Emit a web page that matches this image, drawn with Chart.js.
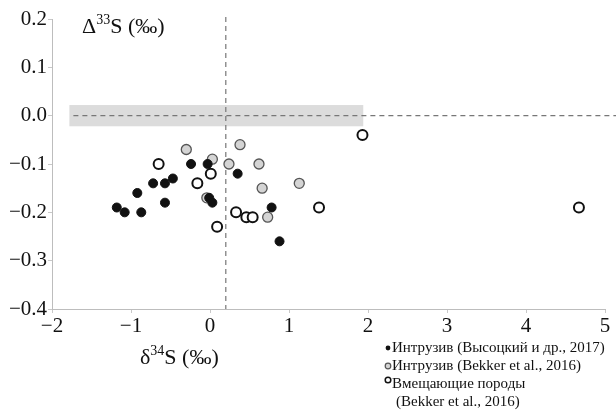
<!DOCTYPE html>
<html>
<head>
<meta charset="utf-8">
<script src="https://cdn.jsdelivr.net/npm/chart.js@4/dist/chart.umd.min.js"></script>
<style>
  html, body { margin: 0; padding: 0; background: #fff; }
  #wrap { position: relative; width: 616px; height: 410px; }
</style>
</head>
<body>
<div id="wrap"><canvas id="c" width="616" height="410"></canvas></div>
<script>
// δ34S vs Δ33S — intrusion and host rock sulfides

// black dots: Интрузив (Высоцкий и др., 2017)
const vysX = [-1.18, -1.08, -0.87, -0.92, -0.72, -0.57, -0.47, -0.57, -0.24, -0.03, -0.01, 0.03, 0.35, 0.78, 0.88];
const vysY = [-0.19, -0.20, -0.20, -0.16, -0.14, -0.14, -0.13, -0.18, -0.10, -0.10, -0.17, -0.18, -0.12, -0.19, -0.26];
// grey dots: Интрузив (Bekker et al., 2016)
const bekX = [-0.30, 0.03, -0.04, 0.24, 0.38, 0.62, 0.66, 1.13, 0.73];
const bekY = [-0.07, -0.09, -0.17, -0.10, -0.06, -0.10, -0.15, -0.14, -0.21];
// open circles: Вмещающие породы (Bekker et al., 2016)
const hostX = [-0.65, 0.01, -0.16, 0.09, 0.33, 0.46, 0.54, 1.38, 1.93, 4.67];
const hostY = [-0.10, -0.12, -0.14, -0.23, -0.20, -0.21, -0.21, -0.19, -0.04, -0.19];

const xTicks = [-2, -1, 0, 1, 2, 3, 4, 5];
const yTicks = [-0.4, -0.3, -0.2, -0.1, 0.0, 0.1, 0.2];

// shaded mass-independent band and reference lines
const bandX = [-1.78, 1.94];
const bandY = [-0.022, 0.022];
const refX = 0.2;
const refY = 0;

const legendLines = [
  'Интрузив (Высоцкий и др., 2017)',
  'Интрузив (Bekker et al., 2016)',
  'Вмещающие породы',
  '(Bekker et al., 2016)',
];

const SERIF = '"Liberation Serif", "DejaVu Serif", serif';
const minus = s => String(s).replace('-', '\u2212');
const pts = (xs, ys) => xs.map((x, i) => ({ x, y: ys[i] }));

const decor = {
  id: 'decor',
  beforeDatasetsDraw(chart) {
    const { ctx, scales: { x, y }, chartArea: a } = chart;
    ctx.save();
    ctx.fillStyle = '#dcdcdc';
    ctx.fillRect(x.getPixelForValue(bandX[0]), y.getPixelForValue(bandY[1]),
      x.getPixelForValue(bandX[1]) - x.getPixelForValue(bandX[0]),
      y.getPixelForValue(bandY[0]) - y.getPixelForValue(bandY[1]));
    ctx.strokeStyle = '#777';
    ctx.lineWidth = 1.2;
    ctx.setLineDash([5, 4]);
    ctx.beginPath();
    const hy = y.getPixelForValue(refY);
    ctx.moveTo(x.getPixelForValue(bandX[0]) + 4, hy);
    ctx.lineTo(chart.width, hy);
    const vx = x.getPixelForValue(refX);
    ctx.moveTo(vx, a.top - 2);
    ctx.lineTo(vx, a.bottom);
    ctx.stroke();
    ctx.restore();
  },
  afterDraw(chart) {
    const { ctx } = chart;
    ctx.save();
    ctx.fillStyle = '#111';
    ctx.textBaseline = 'alphabetic';
    // axis titles with superscripts
    const title = (x0, base, head, sup, tail) => {
      ctx.font = '22px ' + SERIF;
      ctx.fillText(head, x0, base);
      let cx = x0 + ctx.measureText(head).width;
      ctx.font = '14px ' + SERIF;
      ctx.fillText(sup, cx, base - 9);
      cx += ctx.measureText(sup).width;
      ctx.font = '22px ' + SERIF;
      ctx.fillText(tail, cx, base);
    };
    title(82, 33, 'Δ', '33', 'S (‰)');
    title(140, 364, 'δ', '34', 'S (‰)');

    // legend
    ctx.font = '15px ' + SERIF;
    const lx = 392, ys = [352, 370, 388, 406];
    legendLines.forEach((t, i) => ctx.fillText(t, i === 3 ? lx + 4 : lx, ys[i]));
    ctx.lineWidth = 1.2;
    ctx.beginPath(); ctx.arc(lx - 4, ys[0] - 4, 2.4, 0, Math.PI * 2);
    ctx.fillStyle = '#111'; ctx.fill();
    ctx.beginPath(); ctx.arc(lx - 4, ys[1] - 4, 2.8, 0, Math.PI * 2);
    ctx.fillStyle = '#d4d4d4'; ctx.fill(); ctx.strokeStyle = '#555'; ctx.stroke();
    ctx.beginPath(); ctx.arc(lx - 4, ys[2] - 8, 2.8, 0, Math.PI * 2);
    ctx.fillStyle = '#fff'; ctx.fill(); ctx.strokeStyle = '#111'; ctx.lineWidth = 1.5; ctx.stroke();
    ctx.restore();
  },
};

new Chart(document.getElementById('c'), {
  type: 'scatter',
  data: {
    datasets: [
      { label: legendLines[0], data: pts(vysX, vysY), order: 0,
        backgroundColor: '#111', borderColor: '#111', borderWidth: 1, pointRadius: 4.5 },
      { label: legendLines[1], data: pts(bekX, bekY), order: 1,
        backgroundColor: '#d4d4d4', borderColor: '#555', borderWidth: 1.3, pointRadius: 5 },
      { label: legendLines[2], data: pts(hostX, hostY), order: 2,
        backgroundColor: '#fff', borderColor: '#111', borderWidth: 2, pointRadius: 5 },
    ],
  },
  options: {
    responsive: false,
    animation: false,
    layout: { padding: { left: 0, right: 11, top: 19, bottom: 71 } },
    plugins: { legend: { display: false }, tooltip: { enabled: false } },
    scales: {
      x: {
        type: 'linear', min: -2, max: 5,
        afterBuildTicks: s => { s.ticks = xTicks.map(v => ({ value: v })); },
        afterFit: s => { s.height = 30; },
        ticks: { color: '#111', font: { family: SERIF, size: 21 }, padding: 1,
          callback: v => minus(v) },
        grid: { drawOnChartArea: false, drawTicks: true, tickLength: 4, color: '#c8c8c8' },
        border: { color: '#bdbdbd', width: 1 },
      },
      y: {
        type: 'linear', min: -0.4, max: 0.2,
        afterBuildTicks: s => { s.ticks = yTicks.map(v => ({ value: v })); },
        afterFit: s => { s.width = 52; },
        ticks: { color: '#111', font: { family: SERIF, size: 21 }, padding: 1,
          callback: v => minus(v.toFixed(1)) },
        grid: { drawOnChartArea: false, drawTicks: true, tickLength: 4, color: '#c8c8c8' },
        border: { color: '#bdbdbd', width: 1 },
      },
    },
  },
  plugins: [decor],
});
</script>
</body>
</html>
